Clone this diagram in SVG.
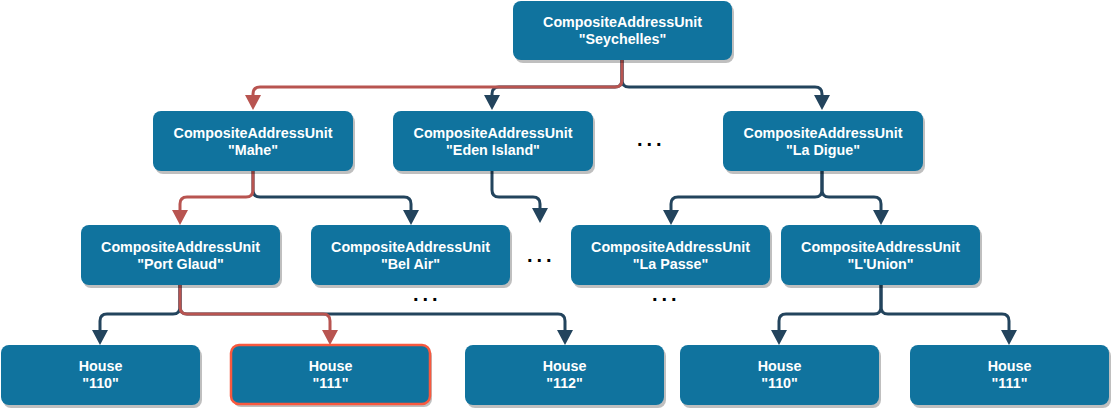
<svg xmlns="http://www.w3.org/2000/svg" width="1112" height="410" viewBox="0 0 1112 410">
<defs>
<style>
.sh{fill:#000;opacity:0.25}
.bx{fill:#10739E;stroke:none}
.hl{fill:#10739E;stroke:#F8593F;stroke-width:2.5}
.t{font-family:"Liberation Sans",Arial,sans-serif;font-size:14.3px;font-weight:bold;fill:#FFFFFF;text-anchor:middle}
.dots{font-family:"Liberation Sans",Arial,sans-serif;font-size:20px;font-weight:bold;fill:#000000;letter-spacing:4px}
.e{fill:none;stroke-width:3;stroke-linejoin:round}
.dk{stroke:#23445D}
.rd{stroke:#B85450}
</style>
<marker id="ad" markerUnits="userSpaceOnUse" markerWidth="16" markerHeight="16" refX="1" refY="8" orient="auto" viewBox="0 0 16 16"><path d="M0,0 L15,8 L0,16 Z" fill="#23445D"/></marker>
<marker id="ar" markerUnits="userSpaceOnUse" markerWidth="16" markerHeight="16" refX="1" refY="8" orient="auto" viewBox="0 0 16 16"><path d="M0,0 L15,8 L0,16 Z" fill="#B85450"/></marker>
</defs>
<rect width="1112" height="410" fill="#FFFFFF"/>

<g id="connectors">
<path class="e dk" marker-end="url(#ad)" d="M622,60 V80 Q622,87 615,87 H499 Q492,87 492,94 V96"/>
<path class="e dk" marker-end="url(#ad)" d="M622,60 V80 Q622,87 629,87 H815 Q822,87 822,94 V96"/>
<path class="e rd" marker-end="url(#ar)" d="M622,60 V80 Q622,87 615,87 H260 Q253,87 253,94 V96"/>

<path class="e dk" marker-end="url(#ad)" d="M253,171 V190 Q253,197 260,197 H404 Q411,197 411,204 V211"/>
<path class="e rd" marker-end="url(#ar)" d="M253,171 V190 Q253,197 246,197 H187 Q180,197 180,204 V211"/>

<path class="e dk" marker-end="url(#ad)" d="M492,171 V190 Q492,197 499,197 H533 Q540,197 540,204 V209"/>

<path class="e dk" marker-end="url(#ad)" d="M822,171 V190 Q822,197 815,197 H678 Q671,197 671,204 V211"/>
<path class="e dk" marker-end="url(#ad)" d="M822,171 V190 Q822,197 829,197 H874 Q881,197 881,204 V211"/>

<path class="e dk" marker-end="url(#ad)" d="M180,285 V307 Q180,314 173,314 H107 Q100,314 100,321 V331"/>
<path class="e dk" marker-end="url(#ad)" d="M180,285 V307 Q180,314 187,314 H558 Q565,314 565,321 V331"/>
<path class="e rd" marker-end="url(#ar)" d="M180,285 V307 Q180,314 187,314 H323 Q330,314 330,321 V331"/>

<path class="e dk" marker-end="url(#ad)" d="M881,285 V307 Q881,314 874,314 H786 Q779,314 779,321 V331"/>
<path class="e dk" marker-end="url(#ad)" d="M881,285 V307 Q881,314 888,314 H1002 Q1009,314 1009,321 V331"/>
</g>

<g id="n-seychelles">
<rect class="sh" x="515" y="4" width="219" height="59" rx="8"/>
<rect class="bx" x="513" y="1" width="219" height="59" rx="8"/>
<text class="t" x="622.5" y="27">CompositeAddressUnit</text>
<text class="t" x="622.5" y="44">"Seychelles"</text>
</g>

<g id="n-mahe">
<rect class="sh" x="155" y="114" width="200" height="60" rx="8"/>
<rect class="bx" x="153" y="111" width="200" height="60" rx="8"/>
<text class="t" x="253" y="137.5">CompositeAddressUnit</text>
<text class="t" x="253" y="154.5">"Mahe"</text>
</g>

<g id="n-eden">
<rect class="sh" x="395" y="114" width="200" height="60" rx="8"/>
<rect class="bx" x="393" y="111" width="200" height="60" rx="8"/>
<text class="t" x="493" y="137.5">CompositeAddressUnit</text>
<text class="t" x="493" y="154.5">"Eden Island"</text>
</g>

<g id="n-ladigue">
<rect class="sh" x="725" y="114" width="200" height="60" rx="8"/>
<rect class="bx" x="723" y="111" width="200" height="60" rx="8"/>
<text class="t" x="823" y="137.5">CompositeAddressUnit</text>
<text class="t" x="823" y="154.5">"La Digue"</text>
</g>

<g id="n-portglaud">
<rect class="sh" x="83" y="228" width="199" height="60" rx="8"/>
<rect class="bx" x="81" y="225" width="199" height="60" rx="8"/>
<text class="t" x="180.5" y="251.5">CompositeAddressUnit</text>
<text class="t" x="180.5" y="268.5">"Port Glaud"</text>
</g>

<g id="n-belair">
<rect class="sh" x="313" y="228" width="199" height="60" rx="8"/>
<rect class="bx" x="311" y="225" width="199" height="60" rx="8"/>
<text class="t" x="410.5" y="251.5">CompositeAddressUnit</text>
<text class="t" x="410.5" y="268.5">"Bel Air"</text>
</g>

<g id="n-lapasse">
<rect class="sh" x="573" y="228" width="199" height="60" rx="8"/>
<rect class="bx" x="571" y="225" width="199" height="60" rx="8"/>
<text class="t" x="670.5" y="251.5">CompositeAddressUnit</text>
<text class="t" x="670.5" y="268.5">"La Passe"</text>
</g>

<g id="n-lunion">
<rect class="sh" x="783" y="228" width="199" height="60" rx="8"/>
<rect class="bx" x="781" y="225" width="199" height="60" rx="8"/>
<text class="t" x="880.5" y="251.5">CompositeAddressUnit</text>
<text class="t" x="880.5" y="268.5">"L'Union"</text>
</g>

<g id="n-house110a">
<rect class="sh" x="3" y="348" width="199" height="60" rx="8"/>
<rect class="bx" x="1" y="345" width="199" height="60" rx="8"/>
<text class="t" x="100.5" y="371">House</text>
<text class="t" x="100.5" y="388">"110"</text>
</g>

<g id="n-house111a">
<rect class="sh" x="233" y="348" width="199" height="59" rx="8"/>
<rect class="hl" x="231" y="345" width="199" height="59" rx="8"/>
<text class="t" x="330.5" y="371">House</text>
<text class="t" x="330.5" y="388">"111"</text>
</g>

<g id="n-house112">
<rect class="sh" x="467" y="348" width="199" height="60" rx="8"/>
<rect class="bx" x="465" y="345" width="199" height="60" rx="8"/>
<text class="t" x="564.5" y="371">House</text>
<text class="t" x="564.5" y="388">"112"</text>
</g>

<g id="n-house110b">
<rect class="sh" x="682" y="348" width="199" height="60" rx="8"/>
<rect class="bx" x="680" y="345" width="199" height="60" rx="8"/>
<text class="t" x="779.5" y="371">House</text>
<text class="t" x="779.5" y="388">"110"</text>
</g>

<g id="n-house111b">
<rect class="sh" x="912" y="348" width="199" height="60" rx="8"/>
<rect class="bx" x="910" y="345" width="199" height="60" rx="8"/>
<text class="t" x="1009.5" y="371">House</text>
<text class="t" x="1009.5" y="388">"111"</text>
</g>

<g id="ellipses">
<text class="dots" x="637" y="145.5">...</text>
<text class="dots" x="527" y="261.5">...</text>
<text class="dots" x="413" y="300.5">...</text>
<text class="dots" x="652" y="300.5">...</text>
</g>
</svg>
